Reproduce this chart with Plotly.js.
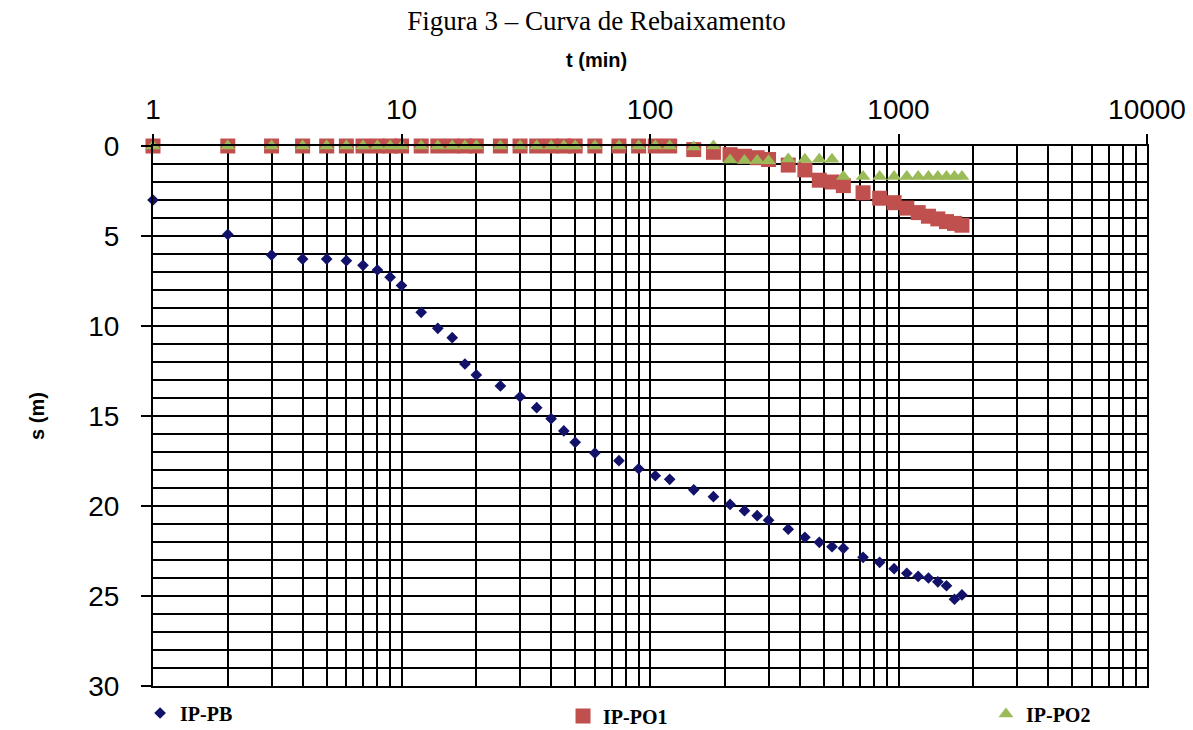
<!DOCTYPE html>
<html>
<head>
<meta charset="utf-8">
<script src="https://cdn.plot.ly/plotly-3.0.1.min.js"></script>
<style>
  html, body { margin: 0; padding: 0; background: #ffffff; }
  #chart { width: 1193px; height: 730px; }
</style>
</head>
<body>
<div id="chart"></div>
<script>
// ---- Data ----
const chartTitle = 'Figura 3 – Curva de Rebaixamento';
const xTitle = 't (min)';
const yTitle = 's (m)';

// time (min)
const times = [1, 2, 3, 4, 5, 6, 7, 8, 9, 10,
  12, 14, 16, 18, 20,
  25, 30, 35, 40, 45, 50,
  60, 75, 90, 105, 120,
  150, 180, 210, 240, 270, 300,
  360, 420, 480, 540, 600,
  720, 840, 960, 1080, 1200, 1320, 1440, 1560, 1680, 1800];

// drawdown s (m)
const sPB = [3.0, 4.91, 6.06, 6.28, 6.28, 6.37, 6.63, 6.89, 7.29, 7.75,
  9.24, 10.13, 10.65, 12.11, 12.72,
  13.33, 13.93, 14.54, 15.15, 15.83, 16.46,
  17.06, 17.48, 17.93, 18.32, 18.52,
  19.1, 19.48, 19.91, 20.26, 20.54, 20.79,
  21.29, 21.74, 22.02, 22.26, 22.35,
  22.85, 23.13, 23.48, 23.74, 23.91, 24.0, 24.21, 24.43, 25.18, 24.94];

const sPO1 = [0, 0, 0, 0, 0, 0, 0, 0, 0, 0,
  0, 0, 0, 0, 0,
  0, 0, 0, 0, 0, 0,
  0, 0, 0, 0, 0,
  0.2, 0.35, 0.48, 0.57, 0.65, 0.75,
  1.06, 1.33, 1.9, 2.0, 2.2,
  2.6, 2.9, 3.15, 3.45, 3.7, 3.9, 4.05, 4.2, 4.3, 4.4];

const sPO2 = [0, 0, 0, 0, 0, 0, 0, 0, 0, 0,
  0, 0, 0, 0, 0,
  0, 0, 0, 0, 0, 0,
  0, 0, 0, 0, 0,
  0.05, 0, 0.78, 0.8, 0.8, 0.82,
  0.72, 0.74, 0.74, 0.74, 1.7,
  1.7, 1.7, 1.7, 1.7, 1.7, 1.7, 1.7, 1.7, 1.7, 1.7];

const seriesNames = ['IP-PB', 'IP-PO1', 'IP-PO2'];
const xTickVals = [1, 10, 100, 1000, 10000];
const xTickText = ['1', '10', '100', '1000', '10000'];
const yTickVals = [0, 5, 10, 15, 20, 25, 30];

// minor log gridlines (2..9 of each decade)
const minorX = [];
for (let d = 0; d < 4; d++) {
  for (let k = 2; k <= 9; k++) minorX.push(k * Math.pow(10, d));
}

const legendFont = {family: 'Liberation Serif, Times New Roman, serif', size: 20, color: '#000', weight: 'bold'};

const traces = [
  {
    x: times, y: sPB, name: seriesNames[0], type: 'scatter', mode: 'markers',
    marker: {symbol: 'diamond', size: 9, color: '#12126a'},
    cliponaxis: false, legend: 'legend'
  },
  {
    x: times, y: sPO1, name: seriesNames[1], type: 'scatter', mode: 'markers',
    marker: {symbol: 'square', size: 15, color: '#c0504d', line: {width: 0}},
    cliponaxis: false, legend: 'legend2'
  },
  {
    x: times, y: sPO2, name: seriesNames[2], type: 'scatter', mode: 'markers',
    marker: {symbol: 'triangle-up', size: 13, color: '#9bbb59', line: {width: 0}},
    cliponaxis: false, legend: 'legend3'
  }
];

const gridCol = '#000000';
const gw = 2;
const layout = {
  width: 1193, height: 730,
  margin: {l: 153, r: 46, t: 146, b: 44, pad: 0, autoexpand: false},
  paper_bgcolor: '#ffffff', plot_bgcolor: '#ffffff',
  font: {family: 'Liberation Sans, Arial, sans-serif', color: '#000'},
  title: {
    text: chartTitle,
    font: {family: 'Liberation Serif, Times New Roman, serif', size: 27, color: '#000'},
    xref: 'container', x: 0.5, xanchor: 'center',
    yref: 'container', y: 1 - 21 / 730, yanchor: 'middle'
  },
  xaxis: {
    type: 'log', range: [0, 4], side: 'top',
    tickvals: xTickVals, ticktext: xTickText,
    ticks: 'outside', ticklen: 10, tickwidth: gw, tickcolor: '#000',
    ticklabelstandoff: 4,
    tickfont: {family: 'Liberation Sans, Arial, sans-serif', size: 28, color: '#000'},
    showgrid: true, gridcolor: gridCol, gridwidth: gw,
    minor: {tickvals: minorX, showgrid: true, gridcolor: gridCol, gridwidth: gw, ticks: ''},
    showline: true, linecolor: '#000', linewidth: gw, mirror: true,
    zeroline: false, automargin: false, fixedrange: true
  },
  yaxis: {
    range: [30, 0],
    tickvals: yTickVals,
    ticks: 'outside', ticklen: 10, tickwidth: gw, tickcolor: '#000',
    ticklabelstandoff: 16,
    tickfont: {family: 'Liberation Sans, Arial, sans-serif', size: 28, color: '#000'},
    showgrid: true, gridcolor: gridCol, gridwidth: gw,
    minor: {dtick: 1, showgrid: true, gridcolor: gridCol, gridwidth: gw, ticks: ''},
    showline: true, linecolor: '#000', linewidth: gw, mirror: true,
    zeroline: false, automargin: false, fixedrange: true,
    title: {
      text: yTitle,
      font: {family: 'Liberation Sans, Arial, sans-serif', size: 20, color: '#000', weight: 'bold'},
      standoff: 38
    }
  },
  annotations: [{
    text: xTitle, showarrow: false,
    xref: 'paper', x: (596 - 153) / 994, xanchor: 'center',
    yref: 'paper', y: 1 + (146 - 60) / 540, yanchor: 'middle',
    font: {family: 'Liberation Sans, Arial, sans-serif', size: 20, color: '#000', weight: 'bold'}
  }],
  showlegend: true,
  legend: {orientation: 'h', x: -0.013, xanchor: 'left', y: -(713 - 686) / 540, yanchor: 'middle',
           font: legendFont, bgcolor: 'rgba(0,0,0,0)', itemwidth: 30},
  legend2: {orientation: 'h', x: 0.4125, xanchor: 'left', y: -(716 - 686) / 540, yanchor: 'middle',
           font: legendFont, bgcolor: 'rgba(0,0,0,0)', itemwidth: 30},
  legend3: {orientation: 'h', x: 0.838, xanchor: 'left', y: -(714 - 686) / 540, yanchor: 'middle',
           font: legendFont, bgcolor: 'rgba(0,0,0,0)', itemwidth: 30}
};

Plotly.newPlot('chart', traces, layout, {displayModeBar: false, staticPlot: true});
</script>
</body>
</html>
